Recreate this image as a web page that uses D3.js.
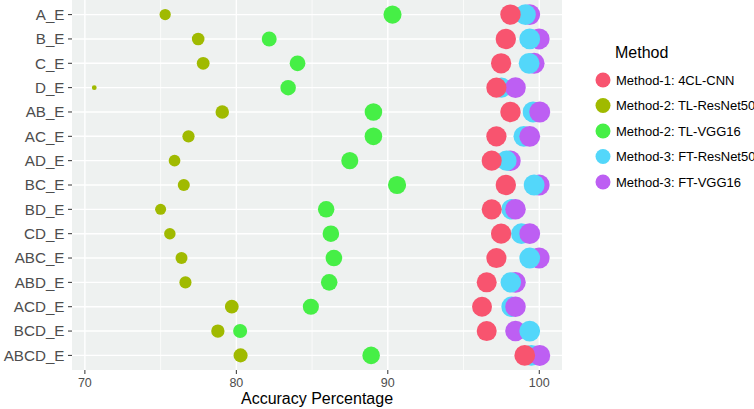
<!DOCTYPE html>
<html><head><meta charset="utf-8">
<script src="https://cdn.jsdelivr.net/npm/d3@7"></script>
<style>
body{margin:0;background:#fff}
svg{display:block}
text{font-family:"Liberation Sans",Arial,Helvetica,sans-serif}
</style>
</head><body>
<svg id="c" width="754" height="409"></svg>
<script>
const categories = ["A_E","B_E","C_E","D_E","AB_E","AC_E","AD_E","BC_E","BD_E","CD_E","ABC_E","ABD_E","ACD_E","BCD_E","ABCD_E"];
const methods = ["Method-1: 4CL-CNN","Method-2: TL-ResNet50","Method-2: TL-VGG16","Method-3: FT-ResNet50","Method-3: FT-VGG16"];
const cnn4cl     = [98.10,97.79,97.48,97.17,98.10,97.17,96.86,97.79,96.86,97.48,97.17,96.53,96.22,96.53,99.04];
const tlResNet50 = [75.30,77.48,77.81,70.62,79.07,76.84,75.92,76.53,75.00,75.61,76.38,76.64,79.70,78.78,80.28];
const tlVGG16    = [90.31,82.17,84.04,83.42,89.05,89.05,87.49,90.61,85.93,86.24,86.44,86.13,84.92,80.25,88.90];
const ftResNet50 = [99.09,99.37,99.33,97.50,99.59,98.98,97.83,99.66,98.17,98.82,99.37,98.12,98.17,99.37,99.48];
const ftVGG16    = [99.37,99.99,99.66,98.43,100.03,99.37,98.10,99.99,98.43,99.37,99.99,98.43,98.43,98.43,100.03];
// which FT series was plotted last (on top) in each row
const ftOnTop    = ["R","R","R","V","V","V","R","R","V","V","R","R","V","R","V"];
const xTicks = [70,80,90,100];
const minorTicks = [75,85,95];
const colors = ["#F8546F","#A0BA00","#46EF46","#53D7FA","#BD5FF3"];

const series = [cnn4cl, tlResNet50, tlVGG16, ftResNet50, ftVGG16];
const svg = d3.select("#c");
const P = {l:72, r:562, t:0, b:370};

const all = series.flat();
const [mn, mx] = d3.extent(all);
const pad = (mx - mn) * 0.05;
const x = d3.scaleLinear().domain([mn - pad, mx + pad]).range([P.l, P.r]);
const y = d3.scalePoint().domain(categories).range([P.t, P.b]).padding(0.6);
const rScale = d3.scaleSqrt().domain([0, mx - mn]).range([0, 8.1]);
const r = v => 2.4 + rScale(v - mn);

// panel
svg.append("rect").attr("x",P.l).attr("y",P.t).attr("width",P.r-P.l).attr("height",P.b-P.t).attr("fill","#EEF1F0");
svg.append("g").selectAll("line").data(minorTicks).join("line")
  .attr("x1",d=>x(d)).attr("x2",d=>x(d)).attr("y1",P.t).attr("y2",P.b)
  .attr("stroke","#fff").attr("stroke-width",0.7);
svg.append("g").selectAll("line").data(xTicks).join("line")
  .attr("x1",d=>x(d)).attr("x2",d=>x(d)).attr("y1",P.t).attr("y2",P.b)
  .attr("stroke","#fff").attr("stroke-width",1.4);
svg.append("g").selectAll("line").data(categories).join("line")
  .attr("x1",P.l).attr("x2",P.r).attr("y1",d=>y(d)).attr("y2",d=>y(d))
  .attr("stroke","#fff").attr("stroke-width",1.4);

// points
const pts = [];
categories.forEach((c,i)=>{
  const order = ftOnTop[i]==="V" ? [1,2,3,4,0] : [1,2,4,3,0];
  order.forEach(m=>pts.push({c, m, v: series[m][i]}));
});
svg.append("g").selectAll("circle").data(pts).join("circle")
  .attr("cx",d=>x(d.v)).attr("cy",d=>y(d.c)).attr("r",d=>r(d.v))
  .attr("fill",d=>colors[d.m]);

// y axis
const ya = svg.append("g");
ya.selectAll("line").data(categories).join("line")
  .attr("x1",P.l-4).attr("x2",P.l).attr("y1",d=>y(d)).attr("y2",d=>y(d))
  .attr("stroke","#333").attr("stroke-width",1);
ya.selectAll("text").data(categories).join("text")
  .attr("x",P.l-7.5).attr("y",d=>y(d)+5.4).attr("text-anchor","end")
  .attr("font-size",15.2).attr("fill","#4D4D4D").text(d=>d);

// x axis
const xa = svg.append("g");
xa.selectAll("line").data(xTicks).join("line")
  .attr("x1",d=>x(d)).attr("x2",d=>x(d)).attr("y1",P.b).attr("y2",P.b+4)
  .attr("stroke","#333").attr("stroke-width",1);
xa.selectAll("text").data(xTicks).join("text")
  .attr("x",d=>x(d)).attr("y",P.b+16.5).attr("text-anchor","middle")
  .attr("font-size",12.5).attr("fill","#4D4D4D").text(d=>d);
svg.append("text").attr("x",(P.l+P.r)/2).attr("y",404).attr("text-anchor","middle")
  .attr("font-size",16).attr("fill","#000").text("Accuracy Percentage");

// legend
const lg = svg.append("g");
lg.append("text").attr("x",615).attr("y",58).attr("font-size",16).attr("fill","#000").text("Method");
const items = lg.selectAll("g").data(methods).join("g")
  .attr("transform",(d,i)=>`translate(0,${80+i*25.5})`);
items.append("circle").attr("cx",603).attr("cy",0).attr("r",7.5).attr("fill",(d,i)=>colors[i]);
items.append("text").attr("x",616).attr("y",4.6).attr("font-size",13).attr("fill","#000").text(d=>d);
</script>
</body></html>
